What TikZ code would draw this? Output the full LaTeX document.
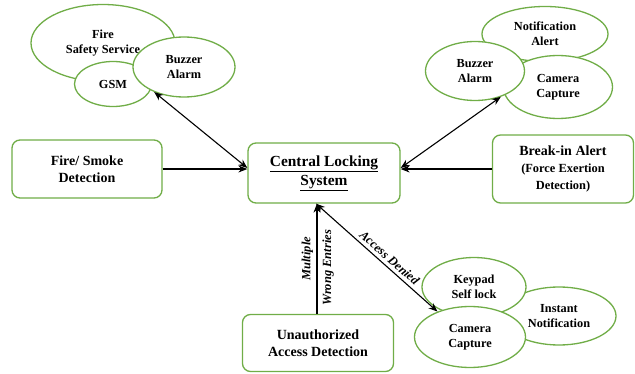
\documentclass[tikz,border=0pt]{standalone}
\usepackage{fontspec}
\setmainfont{Liberation Serif}
\usetikzlibrary{shapes.geometric,arrows.meta,calc}

\begin{document}
\begin{tikzpicture}[
  x=1pt, y=1pt,
  every node/.style={font=\bfseries, align=center},
  box/.style={rectangle, draw=boxgreen, line width=1.3pt, fill=white, rounded corners=8pt, inner sep=0pt, font=\fontsize{14}{17}\selectfont\bfseries},
  bubble/.style={ellipse, draw=boxgreen, line width=1.3pt, fill=white, inner sep=0pt, font=\fontsize{12.3}{15}\selectfont\bfseries},
  arr/.style={-{Stealth[length=9pt, width=7pt]}, line width=1.1pt},
  arrboth/.style={{Stealth[length=9pt, width=7pt]}-{Stealth[length=9pt, width=7pt]}, line width=1.1pt},
  lbl/.style={font=\fontsize{12.5}{14}\selectfont\bfseries\itshape, inner sep=3.5pt},
]
\definecolor{boxgreen}{RGB}{112,173,71}
\useasboundingbox (0,0) rectangle (635,373);

% top left group
\node[bubble, minimum width=144, minimum height=77] (firesafety) at (103,330) {Fire\\Safety Service};
\node[bubble, minimum width=77, minimum height=45] (gsm) at (113,289) {GSM};
\node[bubble, minimum width=102, minimum height=60] (buzzerL) at (184,306) {Buzzer\\Alarm};

% top right group
\node[bubble, minimum width=126, minimum height=55] (notif) at (545,339) {Notification\\Alert};
\node[bubble, minimum width=109, minimum height=63] (camT) at (558,286) {Camera\\Capture};
\node[bubble, minimum width=99, minimum height=59] (buzzerR) at (475,302) {Buzzer\\Alarm};

% boxes
\node[box, minimum width=150, minimum height=58] (firesmoke) at (87,204) {Fire/ Smoke\\Detection};
\node[box, minimum width=152, minimum height=60, font=\fontsize{15.4}{19}\selectfont\bfseries] (central) at (324,200) {\underline{Central Locking}\\\underline{System}};
\node[box, minimum width=141, minimum height=68] (breakin) at (563,204) {Break-in Alert\\{\fontsize{12.4}{15}\selectfont(Force Exertion}\\{\fontsize{12.4}{15}\selectfont Detection)}};
\node[box, minimum width=151, minimum height=57] (unauth) at (318,30) {Unauthorized\\Access Detection};

% bottom right group
\node[bubble, minimum width=114, minimum height=58] (instant) at (559,57) {Instant\\Notification};
\node[bubble, minimum width=104, minimum height=59] (keypad) at (474,86) {Keypad\\Self lock};
\node[bubble, minimum width=111, minimum height=61] (camB) at (470,36) {Camera\\Capture};

% connectors
\draw[arr] (firesmoke.east) -- (firesmoke.east -| central.west);
\draw[arrboth] ($(central.west)+(0,5)$) -- (buzzerL.220);
\draw[arrboth] ($(central.east)+(0,5)$) -- (buzzerR.315);
\draw[arr] (breakin.west) -- (breakin.west -| central.east);
\draw[arr] ($(unauth.north)+(-1,0)$) -- ($(unauth.north |- central.south)+(-1,0)$)
  node[lbl, pos=0.5, sloped, above] {Multiple}
  node[lbl, pos=0.42, sloped, below, inner sep=5pt] {Wrong Entries};
\draw[arrboth] ($(central.south)+(-8,0)$) -- (camB.142)
  node[lbl, pos=0.56, sloped, above] {Access Denied};

\end{tikzpicture}
\end{document}
